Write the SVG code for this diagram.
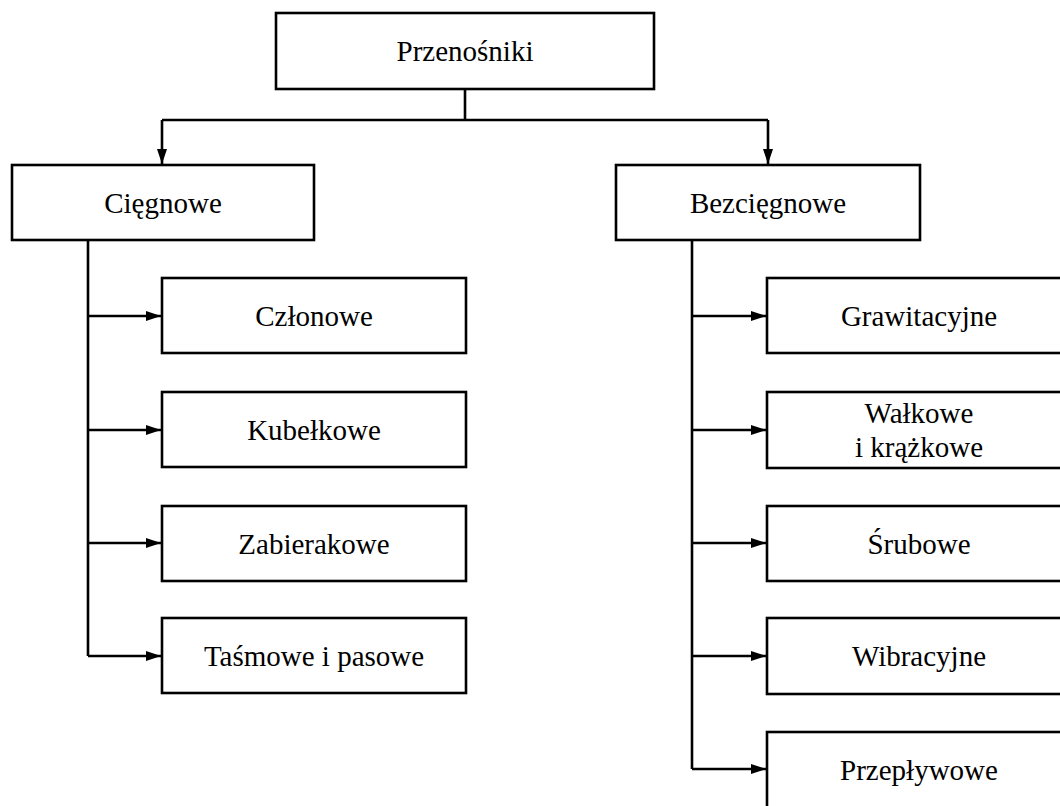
<svg xmlns="http://www.w3.org/2000/svg" width="1060" height="806" viewBox="0 0 1060 806">
<defs>
<style>
.box{fill:#fff;stroke:#000;stroke-width:2.6}
.t{font-size:29px;fill:#000;text-anchor:middle}
.c{fill:none;stroke:#000;stroke-width:2.6}
</style>
<marker id="ah" markerWidth="16" markerHeight="10" refX="15" refY="5" orient="auto" markerUnits="userSpaceOnUse">
<path d="M0,0 L15,5 L0,10 Z" fill="#000"/>
</marker>
</defs>
<rect width="1060" height="806" fill="#fff"/>
<g id="connectors">
<path class="c" d="M465,89 V120"/>
<path class="c" d="M162,120 H768"/>
<path class="c" d="M162,120 V164" marker-end="url(#ah)"/>
<path class="c" d="M768,120 V164" marker-end="url(#ah)"/>
<path class="c" d="M88,240 V656"/>
<path class="c" d="M88,316 H161" marker-end="url(#ah)"/>
<path class="c" d="M88,430 H161" marker-end="url(#ah)"/>
<path class="c" d="M88,543 H161" marker-end="url(#ah)"/>
<path class="c" d="M88,656 H161" marker-end="url(#ah)"/>
<path class="c" d="M692,240 V769"/>
<path class="c" d="M692,316 H766" marker-end="url(#ah)"/>
<path class="c" d="M692,430 H766" marker-end="url(#ah)"/>
<path class="c" d="M692,543 H766" marker-end="url(#ah)"/>
<path class="c" d="M692,656 H766" marker-end="url(#ah)"/>
<path class="c" d="M692,769 H766" marker-end="url(#ah)"/>
</g>
<g font-family="'Liberation Serif', 'DejaVu Serif', serif">
<g id="n-przenosniki"><rect class="box" x="276" y="13" width="378" height="76"/><text class="t" x="465" y="61">Przenośniki</text></g>
<g id="n-ciegnowe"><rect class="box" x="12" y="165" width="302" height="75"/><text class="t" x="163" y="213">Cięgnowe</text></g>
<g id="n-bezciegnowe"><rect class="box" x="616" y="165" width="304" height="75"/><text class="t" x="768" y="213">Bezcięgnowe</text></g>
<g id="n-czlonowe"><rect class="box" x="162" y="278" width="304" height="75"/><text class="t" x="314" y="326">Członowe</text></g>
<g id="n-kubelkowe"><rect class="box" x="162" y="392" width="304" height="75"/><text class="t" x="314" y="440">Kubełkowe</text></g>
<g id="n-zabierakowe"><rect class="box" x="162" y="506" width="304" height="75"/><text class="t" x="314" y="554">Zabierakowe</text></g>
<g id="n-tasmowe"><rect class="box" x="162" y="618" width="304" height="75"/><text class="t" x="314" y="666">Taśmowe i pasowe</text></g>
<g id="n-grawitacyjne"><rect class="box" x="767" y="278" width="304" height="75"/><text class="t" x="919" y="326">Grawitacyjne</text></g>
<g id="n-walkowe"><rect class="box" x="767" y="392" width="304" height="76"/><text class="t" x="919" y="423">Wałkowe</text><text class="t" x="919" y="457">i krążkowe</text></g>
<g id="n-srubowe"><rect class="box" x="767" y="506" width="304" height="75"/><text class="t" x="919" y="554">Śrubowe</text></g>
<g id="n-wibracyjne"><rect class="box" x="767" y="618" width="304" height="76"/><text class="t" x="919" y="666">Wibracyjne</text></g>
<g id="n-przeplywowe"><rect class="box" x="767" y="732" width="304" height="76"/><text class="t" x="919" y="780">Przepływowe</text></g>
</g>
</svg>
